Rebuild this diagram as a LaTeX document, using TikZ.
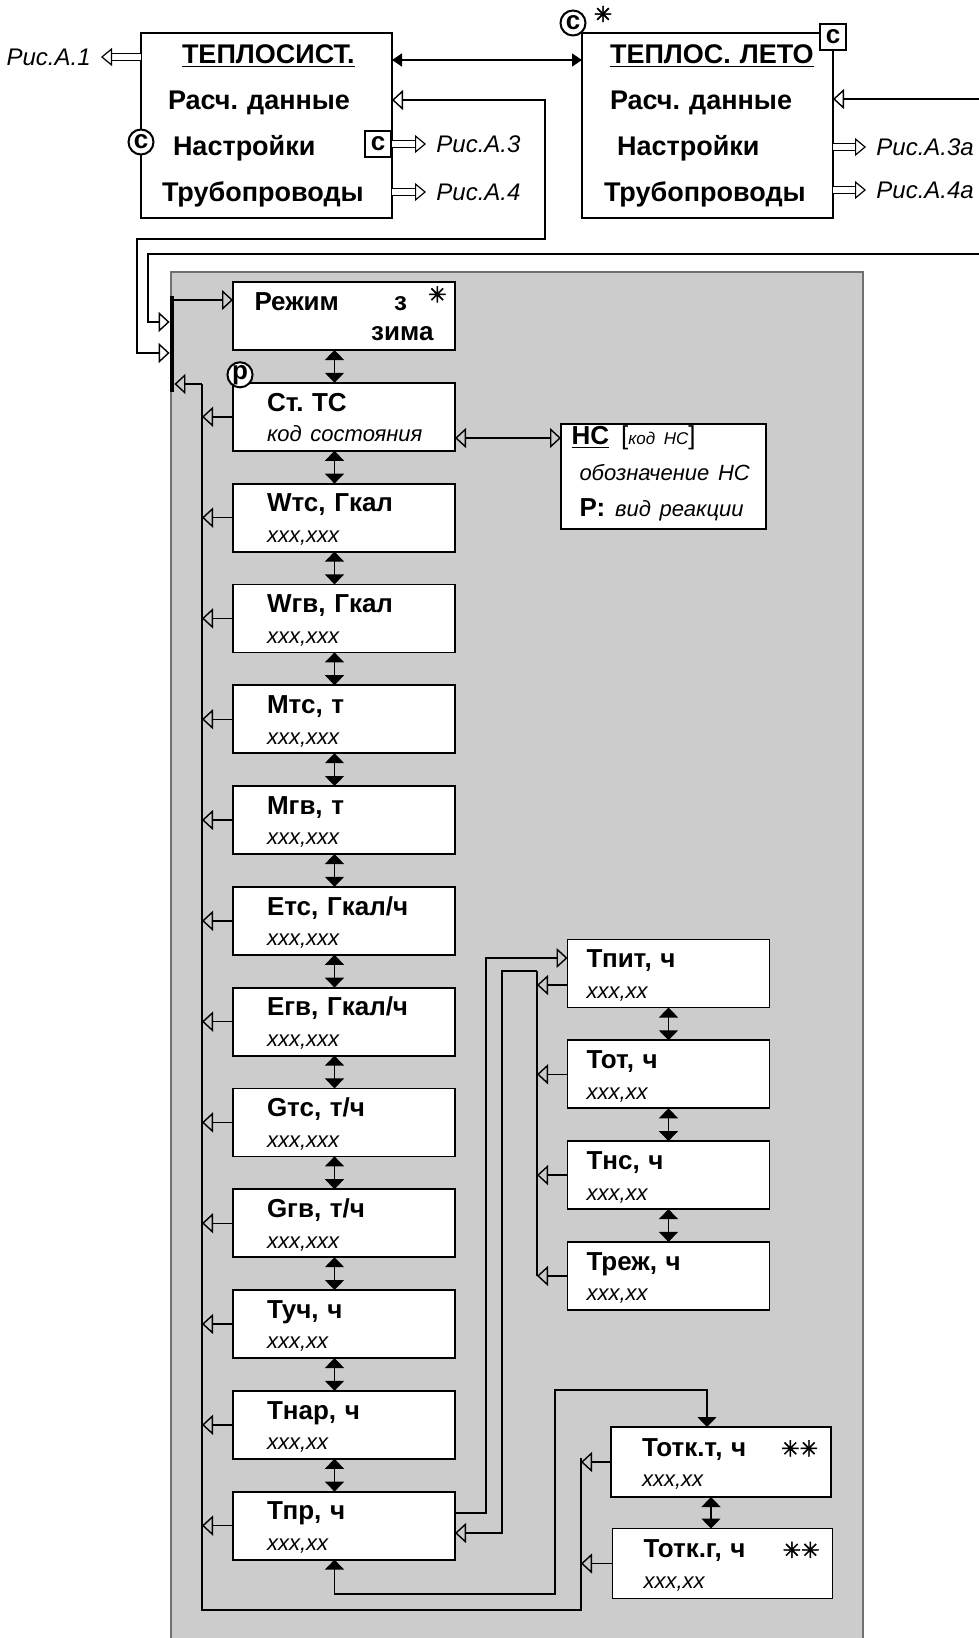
\documentclass[tikz,border=0pt]{standalone}
\usepackage{fontspec}
\setmainfont{Liberation Sans}
\newfontfamily\dejavu[FakeBold=2]{DejaVu Sans}
\usepackage{tikz}
\usetikzlibrary{positioning, arrows.meta}
\definecolor{panelgray}{HTML}{CCCCCC}
\definecolor{panelrim}{HTML}{707070}
\frenchspacing

\newcommand{\valit}[1]{\mbox{\fontsize{11}{15.3}\selectfont\mdseries\itshape #1}}
\newcommand{\zv}{{\dejavu\mdseries\fontsize{11}{11}\selectfont ✳}}

\begin{document}
\begin{tikzpicture}[x=0.5pt, y=-0.5pt,
  node distance=16.4pt,
  every node/.style={font=\fontsize{13}{15.3}\selectfont\bfseries},
  box/.style={draw, line width=0.9pt, fill=white, outer sep=0pt, inner sep=0pt,
    minimum width=111pt, minimum height=34pt, text width=77pt, align=left,
    text height=9.5pt, text depth=15.2pt},
  sidebox/.style={box, minimum width=101pt, text width=82pt},
  otkbox/.style={box, minimum width=110pt, minimum height=35pt, text width=79pt},
  mainbox/.style={draw, line width=1.4pt, fill=white, outer sep=0pt, inner sep=0pt,
    minimum width=125.5pt, minimum height=92.5pt, text width=110pt, align=left,
    font=\fontsize{13.5}{23}\selectfont\bfseries},
  ring/.style={circle, draw, line width=1pt, fill=white, inner sep=0pt, minimum size=12.5pt},
  sqmark/.style={rectangle, draw, line width=1pt, fill=white, inner sep=0pt, minimum size=13pt},
  ris/.style={font=\fontsize{12}{14}\selectfont\mdseries\itshape, inner sep=5pt},
  link/.style={line width=0.7pt},
  openarr/.style={link, -{Triangle[open, length=5.5pt, width=10pt]}},
  openboth/.style={link, {Triangle[open, length=5.5pt, width=10pt]}-{Triangle[open, length=5.5pt, width=10pt]}},
  fillboth/.style={link, {Triangle[length=5pt, width=9.5pt]}-{Triangle[length=5pt, width=9.5pt]}},
  fatarr/.style={double=white, double distance=2.6pt, line width=0.6pt,
    -{Triangle[open, fill=white, length=5.5pt, width=9pt, line width=0.6pt]}},
  colline/.style={line width=1.3pt}
]
  \useasboundingbox (0,0) rectangle (979,1638);

  % Panel
  \fill[panelgray] (171,272) rectangle (863,1638);
  \draw[panelrim, line width=1pt] (171,1638) |- (863,272) -- (863,1638);

  % Upper boxes
  \node[mainbox] (teplo) at (266.5,125.5)
    {\hspace*{12.75pt}\underline{ТЕПЛОСИСТ.}\\\hspace*{5.75pt}Расч. данные\\\hspace*{8.25pt}Настройки\\\hspace*{2.75pt}Трубопроводы};
  \node[mainbox] (leto) at (707.5,125.5)
    {\hspace*{6.25pt}\underline{ТЕПЛОС. ЛЕТО}\\\hspace*{6.25pt}Расч. данные\\\hspace*{9.75pt}Настройки\\\hspace*{3.25pt}Трубопроводы};
  \node[ring] (cteplo) at (teplo.west |- 0,142) {c};
  \node[sqmark, anchor=east] (sqteplo) at (teplo.east |- 0,144) {c};
  \node[ring] (cleto) at ([xshift=-4.5pt, yshift=5pt]leto.north west) {c};
  \node[sqmark] (sqleto) at ([yshift=-2pt]leto.north east) {c};
  \node[inner sep=0pt] (astleto) at (603,14) {\zv};

  \node[ris, anchor=east] (ris1) at (101,57) {Рис.А.1};
  \node[ris, anchor=west] (ris3) at (426,144) {Рис.А.3};
  \node[ris, anchor=west] (ris4) at (426,192) {Рис.А.4};
  \node[ris, anchor=west] (ris3a) at (866,147) {Рис.А.3а};
  \node[ris, anchor=west] (ris4a) at (866,190) {Рис.А.4а};

  % Menu list
  \node[fill=black, inner sep=0pt, minimum width=2pt, minimum height=48pt] (bar) at (172,344) {};
  \node[box, text width=89.5pt] (rezhim) at (344,316)
    {Режим\hfill з\hspace*{10.5pt}\raisebox{4pt}{\zv}\kern-6.5pt\mbox{}\\\hfill зима};
  \node[box, below=of rezhim] (stts) {Ст. ТС\\\valit{код состояния}};
  \node[box, below=of stts] (wts) {Wтс, Гкал\\\valit{xxx,xxx}};
  \node[box, below=of wts] (wgv) {Wгв, Гкал\\\valit{xxx,xxx}};
  \node[box, below=of wgv] (mts) {Мтс, т\\\valit{xxx,xxx}};
  \node[box, below=of mts] (mgv) {Мгв, т\\\valit{xxx,xxx}};
  \node[box, below=of mgv] (ets) {Етс, Гкал/ч\\\valit{xxx,xxx}};
  \node[box, below=of ets] (egv) {Егв, Гкал/ч\\\valit{xxx,xxx}};
  \node[box, below=of egv] (gts) {Gтс, т/ч\\\valit{xxx,xxx}};
  \node[box, below=of gts] (ggv) {Gгв, т/ч\\\valit{xxx,xxx}};
  \node[box, below=of ggv] (tuch) {Туч, ч\\\valit{xxx,xx}};
  \node[box, below=of tuch] (tnar) {Тнар, ч\\\valit{xxx,xx}};
  \node[box, below=of tnar] (tpr) {Тпр, ч\\\valit{xxx,xx}};
  \node[ring] (pmark) at ([xshift=3.5pt, yshift=4pt]stts.north west) {p};

  \node[draw, line width=0.9pt, fill=white, outer sep=0pt, inner sep=0pt,
    minimum width=102.5pt, minimum height=52.5pt, text width=84pt, align=left,
    text height=9.5pt, text depth=42pt,
    font=\fontsize{13}{18}\selectfont\bfseries] (ns) at (663.5,476.5)
    {\hspace*{-4pt}\mbox{\underline{НС}\hspace{6pt}{\mdseries[{\fontsize{8.5}{10}\selectfont\itshape код НС}]}}\\\valit{обозначение НС}\\\mbox{Р:\hspace{5pt}\valit{вид реакции}}};

  % Time counters
  \node[sidebox] (tpit) at (668.5,973.5) {Тпит, ч\\\valit{xxx,xx}};
  \node[sidebox, below=of tpit] (tot) {Тот, ч\\\valit{xxx,xx}};
  \node[sidebox, below=of tot] (tns) {Тнс, ч\\\valit{xxx,xx}};
  \node[sidebox, below=of tns] (trezh) {Треж, ч\\\valit{xxx,xx}};
  \node[otkbox] (totkt) at (721,1462) {Тотк.т, ч\hfill\zv\zv\kern-9pt\mbox{}\\\valit{xxx,xx}};
  \node[otkbox] (totkg) at (722.5,1563.5) {Тотк.г, ч\hfill\zv\zv\kern-9pt\mbox{}\\\valit{xxx,xx}};

  \coordinate (colmain) at (202,384);
  \coordinate (colbot) at (202,1610);
  \coordinate (colotk) at (581,1458);
  \coordinate (colpit) at (537,971);
  \coordinate (otkin) at ([xshift=-7pt]totkt.north);
  \coordinate (rimA) at (979,99);
  \coordinate (rimB) at (979,254);

  % Upper arrows
  \draw[fatarr] (teplo.west |- ris1) -- (ris1.east);
  \draw[fatarr] (sqteplo.east) -- (ris3.west);
  \draw[fatarr] (teplo.east |- ris4) -- (ris4.west);
  \draw[fatarr] (leto.east |- ris3a) -- (ris3a.west);
  \draw[fatarr] (leto.east |- ris4a) -- (ris4a.west);
  \draw[link, {Triangle[length=5pt, width=6.5pt]}-{Triangle[length=5pt, width=6.5pt]}]
    (teplo.east |- 0,60) -- (leto.west |- 0,60);
  \draw[openboth] (teplo.east |- 0,100) -| (545,239) -| (137,353) -- (bar.west |- 0,353);
  \draw[link, {Triangle[open, length=5.5pt, width=10pt]}-] (leto.east |- rimA) -- (rimA);
  \draw[openarr] (rimB) -| (148,322) -- (bar.west |- 0,322);

  % List arrows
  \draw[openarr] (bar.east |- 0,300) -- (rezhim.west |- 0,300);
  \draw[fillboth] ([xshift=-4.75pt]rezhim.south) -- ([xshift=-4.75pt]stts.north);
  \draw[fillboth] ([xshift=-4.75pt]stts.south) -- ([xshift=-4.75pt]wts.north);
  \draw[fillboth] ([xshift=-4.75pt]wts.south) -- ([xshift=-4.75pt]wgv.north);
  \draw[fillboth] ([xshift=-4.75pt]wgv.south) -- ([xshift=-4.75pt]mts.north);
  \draw[fillboth] ([xshift=-4.75pt]mts.south) -- ([xshift=-4.75pt]mgv.north);
  \draw[fillboth] ([xshift=-4.75pt]mgv.south) -- ([xshift=-4.75pt]ets.north);
  \draw[fillboth] ([xshift=-4.75pt]ets.south) -- ([xshift=-4.75pt]egv.north);
  \draw[fillboth] ([xshift=-4.75pt]egv.south) -- ([xshift=-4.75pt]gts.north);
  \draw[fillboth] ([xshift=-4.75pt]gts.south) -- ([xshift=-4.75pt]ggv.north);
  \draw[fillboth] ([xshift=-4.75pt]ggv.south) -- ([xshift=-4.75pt]tuch.north);
  \draw[fillboth] ([xshift=-4.75pt]tuch.south) -- ([xshift=-4.75pt]tnar.north);
  \draw[fillboth] ([xshift=-4.75pt]tnar.south) -- ([xshift=-4.75pt]tpr.north);
  \draw[openboth] (stts.east |- 0,438) -- (ns.west |- 0,438);

  % Returns
  \draw[colline] (colotk) |- (colbot) -- (colmain);
  \draw[openarr] (colmain) -- (bar.east |- colmain);
  \draw[openarr] (stts.west) -- (stts.west -| colmain);
  \draw[openarr] (wts.west) -- (wts.west -| colmain);
  \draw[openarr] (wgv.west) -- (wgv.west -| colmain);
  \draw[openarr] (mts.west) -- (mts.west -| colmain);
  \draw[openarr] (mgv.west) -- (mgv.west -| colmain);
  \draw[openarr] (ets.west) -- (ets.west -| colmain);
  \draw[openarr] (egv.west) -- (egv.west -| colmain);
  \draw[openarr] (gts.west) -- (gts.west -| colmain);
  \draw[openarr] (ggv.west) -- (ggv.west -| colmain);
  \draw[openarr] (tuch.west) -- (tuch.west -| colmain);
  \draw[openarr] (tnar.west) -- (tnar.west -| colmain);
  \draw[openarr] (tpr.west) -- (tpr.west -| colmain);

  % Time counters arrows
  \draw[openarr] (tpr.east |- 0,1513) -| (486,958) -- (tpit.west |- 0,958);
  \draw[colline] (colpit) -- (colpit |- trezh.west);
  \draw[openarr] (colpit) -| (502,1533) -- (tpr.east |- 0,1533);
  \draw[openarr] (tpit.west |- 0,985) -- (colpit |- 0,985);
  \draw[openarr] (tot.west) -- (tot.west -| colpit);
  \draw[openarr] (tns.west) -- (tns.west -| colpit);
  \draw[openarr] (trezh.west) -- (trezh.west -| colpit);
  \draw[fillboth] (tpit.south) -- (tot.north);
  \draw[fillboth] (tot.south) -- (tns.north);
  \draw[fillboth] (tns.south) -- (trezh.north);

  \draw[fillboth] ([xshift=-4.75pt]tpr.south) |- (555,1594) -- (555,1390) -| (otkin);
  \draw[fillboth] ([xshift=-5pt]totkt.south) -- ([xshift=-5pt]totkt.south |- totkg.north);
  \draw[openarr] (totkt.west) -- (totkt.west -| colotk);
  \draw[openarr] (totkg.west) -- (totkg.west -| colotk);
\end{tikzpicture}
\end{document}
